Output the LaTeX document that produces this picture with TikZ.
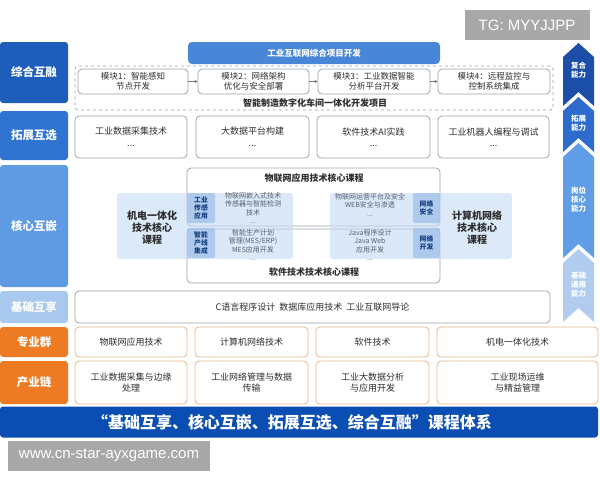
\documentclass[tikz,border=0pt]{standalone}
\usepackage{fontspec}
\setmainfont{Noto Sans CJK SC}
\newfontfamily\wmfont{Liberation Sans}
\usetikzlibrary{arrows.meta}
\definecolor{cA}{HTML}{1F5DBA}
\definecolor{cB}{HTML}{2F74D0}
\definecolor{cC}{HTML}{5E9BE2}
\definecolor{cD}{HTML}{A9C8EE}
\definecolor{cOr}{HTML}{EC7B23}
\definecolor{cHdr}{HTML}{4A86D8}
\definecolor{cBan}{HTML}{0A4DB3}
\definecolor{cGrayB}{HTML}{9DA3AB}
\definecolor{cTan}{HTML}{E2B68E}
\definecolor{cPanel}{HTML}{C4DAF4}
\definecolor{cSub}{HTML}{9EC0EA}
\definecolor{cTxt}{HTML}{2E2E2E}
\definecolor{cSm}{HTML}{55606E}
\definecolor{cWm}{HTML}{A8A8A8}
\definecolor{arA}{HTML}{1B4EA6}
\definecolor{arB}{HTML}{2D6CCC}
\definecolor{arC}{HTML}{5F9EE6}
\definecolor{arD}{HTML}{B0CDF0}
\begin{document}
\begin{tikzpicture}[x=1pt,y=-1pt,
  lab/.style={rounded corners=3, text=white, font=\fontsize{11.5}{13}\selectfont\bfseries, minimum width=68, inner sep=0},
  gbox/.style={draw=cGrayB, line width=0.8, rounded corners=4, fill=white, inner sep=0, align=center, text=cTxt, font=\fontsize{9}{11.5}\selectfont},
  mbox/.style={gbox, font=\fontsize{8.5}{10}\selectfont, minimum height=25},
  obox/.style={gbox, draw=cTan},
  ttl/.style={font=\fontsize{9}{11}\selectfont\bfseries, text=cTxt, inner sep=0},
  panel/.style={fill=cPanel, fill opacity=0.6, rounded corners=3, inner sep=0, minimum height=66},
  sub/.style={fill=cSub, fill opacity=0.75, text opacity=1, rounded corners=2, inner sep=0, minimum width=28, minimum height=30, align=center, font=\fontsize{6.8}{8.2}\selectfont\bfseries, text=cA!70!black},
  small/.style={align=center, font=\fontsize{7}{8.3}\selectfont, text=cSm, inner sep=0},
  big/.style={align=center, font=\fontsize{10}{12}\selectfont\bfseries, text=cTxt, inner sep=0},
  arr/.style={align=center, font=\fontsize{7.5}{9}\selectfont\bfseries, text=white, inner sep=0},
  wm/.style={fill=cWm, text=white, font=\wmfont\fontsize{15}{17}\selectfont, inner sep=0}
]
\useasboundingbox (0,0) rectangle (600,480);

% left labels
\node[lab, fill=cA, minimum height=61] (lab1) at (34,72.5) {综合互融};
\node[lab, fill=cB, minimum height=49] (lab2) at (34,135.5) {拓展互选};
\node[lab, fill=cC, minimum height=122] (lab3) at (34,226) {核心互嵌};
\node[lab, fill=cD, minimum height=32] (lab4) at (34,307) {基础互享};
\node[lab, fill=cOr, minimum height=30] (lab5) at (34,342) {专业群};
\node[lab, fill=cOr, minimum height=43] (lab6) at (34,382.5) {产业链};

% top block
\node[draw=cGrayB, dashed, line width=0.7, rounded corners=3, minimum width=478, minimum height=44, inner sep=0] (dash) at (314,88) {};
\node[fill=cHdr, rounded corners=4, minimum width=252, minimum height=22, inner sep=0, text=white, font=\fontsize{8.5}{10}\selectfont\bfseries] (hdr) at (314,53) {工业互联网综合项目开发};
\node[mbox, minimum width=110] (m1) at (133,81.5) {模块1：智能感知\\节点开发};
\node[mbox, minimum width=111] (m2) at (253.5,81.5) {模块2：网络架构\\优化与安全部署};
\node[mbox, minimum width=112] (m3) at (374,81.5) {模块3：工业数据智能\\分析平台开发};
\node[mbox, minimum width=112] (m4) at (494,81.5) {模块4：远程监控与\\控制系统集成};
\draw[cGrayB!70!black, line width=0.7, -{Stealth[length=3pt,width=3pt]}] (m1) -- (m2);
\draw[cGrayB!70!black, line width=0.7, -{Stealth[length=3pt,width=3pt]}] (m2) -- (m3);
\draw[cGrayB!70!black, line width=0.7, -{Stealth[length=3pt,width=3pt]}] (m3) -- (m4);
\node[ttl] (prj) at (315,103) {智能制造数字化车间一体化开发项目};

% expansion row
\node[gbox, minimum width=112, minimum height=42] (e1) at (131,137) {工业数据采集技术\\...};
\node[gbox, minimum width=113, minimum height=42] (e2) at (252.5,137) {大数据平台构建\\...};
\node[gbox, minimum width=113, minimum height=42] (e3) at (373.5,137) {软件技术AI实践\\...};
\node[gbox, minimum width=111, minimum height=42] (e4) at (493.5,137) {工业机器人编程与调试\\...};

% core block
\node[gbox, minimum width=253, minimum height=58] (c1) at (313.5,197) {};
\node[gbox, minimum width=253, minimum height=54] (c2) at (313.5,256) {};
\node[ttl] (c1t) at (314,178) {物联网应用技术核心课程};
\node[ttl] (c2t) at (314,272) {软件技术技术核心课程};
\node[panel, minimum width=176] (pl) at (205,226) {};
\node[panel, minimum width=182] (pr) at (421,226) {};
\node[sub] (s1) at (201,208) {工业\\传感\\应用};
\node[sub] (s2) at (201,243) {智能\\产线\\集成};
\node[sub, minimum width=27] (s3) at (426.5,208) {网络\\安全};
\node[sub, minimum width=27] (s4) at (426.5,243) {网络\\开发};
\node[small] (tl1) at (253,208) {物联网嵌入式技术\\传感器与智能检测\\技术\\...};
\node[small] (tl2) at (253,245) {智能生产计划\\管理(MES/ERP)\\MES应用开发\\...};
\node[small] (tr1) at (370,205) {物联网运营平台及安全\\WEB安全与渗透\\...};
\node[small] (tr2) at (370,245) {Java程序设计\\Java Web\\应用开发\\...};
\node[big] (plt) at (152,228) {机电一体化\\技术核心\\课程};
\node[big] (prt) at (477,228) {计算机网络\\技术核心\\课程};

% base row
\node[gbox, minimum width=475, minimum height=32] (base) at (312.5,307) {C语言程序设计\ \ 数据库应用技术\ \ 工业互联网导论};

% major group row
\node[obox, minimum width=112, minimum height=30] (p1) at (131,342) {物联网应用技术};
\node[obox, minimum width=113, minimum height=30] (p2) at (251.5,342) {计算机网络技术};
\node[obox, minimum width=113, minimum height=30] (p3) at (372.5,342) {软件技术};
\node[obox, minimum width=161, minimum height=30] (p4) at (517.5,342) {机电一体化技术};

% industry chain row
\node[obox, minimum width=112, minimum height=43] (q1) at (131,382.5) {工业数据采集与边缘\\处理};
\node[obox, minimum width=113, minimum height=43] (q2) at (251.5,382.5) {工业网络管理与数据\\传输};
\node[obox, minimum width=113, minimum height=43] (q3) at (372.5,382.5) {工业大数据分析\\与应用开发};
\node[obox, minimum width=161, minimum height=43] (q4) at (517.5,382.5) {工业现场运维\\与精益管理};

% banner
\node[fill=cBan, rounded corners=3, minimum width=598, minimum height=31, inner sep=0] (ban) at (299,422) {};
\node[text=white, font=\fontsize{16}{18}\selectfont\bfseries, inner sep=0] (bant) at (292,422) {“基础互享、核心互嵌、拓展互选、综合互融”课程体系};

% right chevrons
\fill[arA] (578.5,43) -- (594,57) -- (594,106) -- (578.5,92) -- (563,106) -- (563,57) -- cycle;
\fill[arB] (578.5,97) -- (594,111) -- (594,152) -- (578.5,138) -- (563,152) -- (563,111) -- cycle;
\fill[arC] (578.5,143) -- (594,157) -- (594,258) -- (578.5,244) -- (563,258) -- (563,157) -- cycle;
\fill[arD] (578.5,249) -- (594,263) -- (594,322) -- (578.5,308) -- (563,322) -- (563,263) -- cycle;
\node[arr] (a1) at (578.5,70) {复合\\能力};
\node[arr] (a2) at (578.5,123) {拓展\\能力};
\node[arr] (a3) at (578.5,200) {岗位\\核心\\能力};
\node[arr] (a4) at (578.5,285) {基础\\通用\\能力};

% watermarks
\node[wm, minimum width=125, minimum height=30] (wm1) at (527,25) {TG: MYYJJPP};
\node[wm, minimum width=202, minimum height=30] (wm2) at (109,455.5) {www.cn-star-ayxgame.com};
\end{tikzpicture}
\end{document}
